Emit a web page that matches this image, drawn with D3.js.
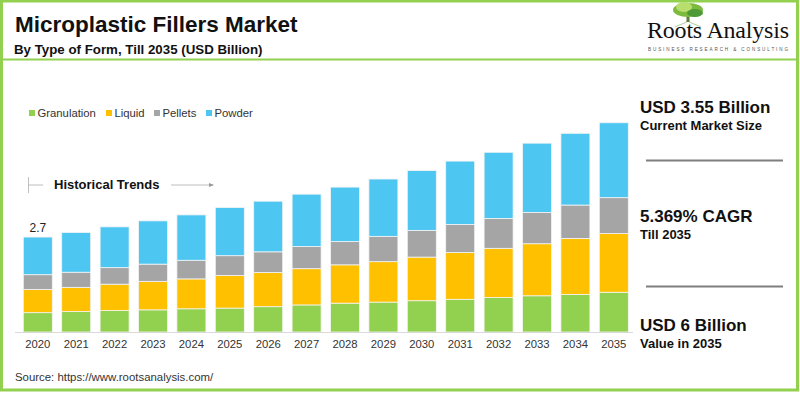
<!DOCTYPE html>
<html>
<head>
<meta charset="utf-8">
<script src="https://cdn.jsdelivr.net/npm/d3@7"></script>
<style>
  body { margin: 0; background: #fff; }
  svg { display: block; font-family: Arial, "Liberation Sans", sans-serif; }
</style>
</head>
<body>
<div id="chart"></div>
<script>
// data (USD Billion)
let years = ["2020", "2021", "2022", "2023", "2024", "2025", "2026", "2027",
             "2028", "2029", "2030", "2031", "2032", "2033", "2034", "2035"];
let granulation = [0.55, 0.58, 0.61, 0.63, 0.66, 0.68, 0.72, 0.77, 0.82, 0.85, 0.89, 0.93, 0.98, 1.03, 1.07, 1.13];
let liquid      = [0.66, 0.69, 0.75, 0.81, 0.85, 0.93, 0.97, 1.03, 1.09, 1.15, 1.24, 1.33, 1.40, 1.48, 1.59, 1.67];
let pellets     = [0.42, 0.43, 0.47, 0.49, 0.53, 0.56, 0.59, 0.63, 0.66, 0.72, 0.76, 0.80, 0.85, 0.89, 0.95, 1.02];
let powder      = [1.07, 1.13, 1.16, 1.23, 1.29, 1.37, 1.44, 1.49, 1.55, 1.63, 1.70, 1.80, 1.88, 1.97, 2.04, 2.13];
let seriesNames = ["Granulation", "Liquid", "Pellets", "Powder"];
let seriesColors = ["#92d050", "#ffc000", "#a5a5a5", "#4dc7f2"];
let firstLabel = "2.7";

let svgWidth = 800;
let svgHeight = 393;
let green = "#92d050";

let svg = d3.select("#chart")
    .append("svg")
    .attr("width", svgWidth)
    .attr("height", svgHeight);

// frame
svg.append("rect").attr("x", 1.5).attr("y", 1).attr("width", 796).attr("height", 389)
    .attr("fill", "none").attr("stroke", green).attr("stroke-width", 3);
svg.append("line").attr("x1", 0).attr("x2", 798).attr("y1", 59.5).attr("y2", 59.5)
    .attr("stroke", green).attr("stroke-width", 2);

// titles
svg.append("text").attr("x", 15).attr("y", 32)
    .attr("font-size", 22.5).attr("font-weight", "bold").attr("fill", "#111")
    .text("Microplastic Fillers Market");
svg.append("text").attr("x", 14).attr("y", 54)
    .attr("font-size", 13.3).attr("font-weight", "bold").attr("fill", "#111")
    .text("By Type of Form, Till 2035 (USD Billion)");

// logo
let logo = svg.append("g");
logo.append("path").attr("d", "M688,21 C684,24 678,25 675,27 M688,21 C692,24 698,25 701,27")
    .attr("stroke", "#9bbf7a").attr("stroke-width", 0.8).attr("fill", "none");
logo.append("rect").attr("x", 686.5).attr("y", 12).attr("width", 3).attr("height", 10).attr("fill", "#5b7f3a");
logo.append("ellipse").attr("cx", 688).attr("cy", 10).attr("rx", 15).attr("ry", 7).attr("fill", "#7dbb3f");
logo.append("ellipse").attr("cx", 684).attr("cy", 7).attr("rx", 8).attr("ry", 5).attr("fill", "#b8de6e");
logo.append("ellipse").attr("cx", 695).attr("cy", 13).attr("rx", 8).attr("ry", 4).attr("fill", "#4e9a36");
logo.append("text").attr("x", 647).attr("y", 38)
    .attr("font-family", "'Liberation Serif', 'Times New Roman', serif")
    .attr("font-size", 24).attr("fill", "#111").attr("textLength", 142)
    .text("Roots Analysis");
logo.append("text").attr("x", 648).attr("y", 51)
    .attr("font-size", 4.6).attr("fill", "#555").attr("textLength", 140)
    .text("BUSINESS RESEARCH & CONSULTING");

// chart scales
let x = d3.scaleBand()
    .domain(years)
    .range([18.6, 633])
    .paddingInner(0.245)
    .paddingOuter(0.1225);

let y = d3.scaleLinear()
    .domain([0, 6])
    .range([332, 121]);

let table = years.map((yr, i) => ({
    year: yr,
    Granulation: granulation[i],
    Liquid: liquid[i],
    Pellets: pellets[i],
    Powder: powder[i]
}));

let stacked = d3.stack().keys(seriesNames)(table);

let chartGroup = svg.append("g");

chartGroup.selectAll("g.layer")
    .data(stacked)
    .enter()
    .append("g")
    .attr("class", "layer")
    .attr("fill", (d, i) => seriesColors[i])
    .selectAll("rect")
    .data(d => d)
    .enter()
    .append("rect")
    .attr("x", d => x(d.data.year))
    .attr("y", d => y(d[1]))
    .attr("width", x.bandwidth())
    .attr("height", d => y(d[0]) - y(d[1]))
    .attr("stroke", "#f4f4f4")
    .attr("stroke-width", 0.8);

// baseline
chartGroup.append("line")
    .attr("x1", 15).attr("x2", 633)
    .attr("y1", y(0) + 0.5).attr("y2", y(0) + 0.5)
    .attr("stroke", "#d9d9d9").attr("stroke-width", 1);

// x axis labels
let xAxis = d3.axisBottom(x).tickSize(0).tickPadding(8);
let axisG = chartGroup.append("g")
    .attr("transform", `translate(0, ${y(0)})`)
    .call(xAxis);
axisG.select(".domain").remove();
axisG.selectAll("text")
    .attr("font-family", "Arial, 'Liberation Sans', sans-serif")
    .attr("font-size", 11.3)
    .attr("fill", "#333");

// value label on first bar
let total0 = granulation[0] + liquid[0] + pellets[0] + powder[0];
chartGroup.append("text")
    .attr("x", x(years[0]) + x.bandwidth() / 2)
    .attr("y", y(total0) - 5)
    .attr("text-anchor", "middle")
    .attr("font-size", 12).attr("fill", "#222")
    .text(firstLabel);

// legend
let legendX = [29, 106, 154, 206];
let legend = svg.append("g");
seriesNames.forEach((name, i) => {
    legend.append("rect")
        .attr("x", legendX[i]).attr("y", 110)
        .attr("width", 6).attr("height", 6)
        .attr("fill", seriesColors[i]);
    legend.append("text")
        .attr("x", legendX[i] + 8.5).attr("y", 117)
        .attr("font-size", 11.3).attr("fill", "#333")
        .text(name);
});

// historical trends marker
let ht = svg.append("g").attr("stroke", "#bfbfbf").attr("stroke-width", 1);
ht.append("line").attr("x1", 28.5).attr("x2", 28.5).attr("y1", 177).attr("y2", 193);
ht.append("line").attr("x1", 28.5).attr("x2", 43).attr("y1", 185).attr("y2", 185);
ht.append("line").attr("x1", 171).attr("x2", 213).attr("y1", 185).attr("y2", 185);
ht.append("path").attr("d", "M209,183 L214,185 L209,187 Z").attr("fill", "#999").attr("stroke", "none");
svg.append("text").attr("x", 54).attr("y", 189)
    .attr("font-size", 13).attr("font-weight", "bold").attr("fill", "#111")
    .text("Historical Trends");

// right side key figures
let facts = [
    { big: "USD 3.55 Billion", small: "Current Market Size", y: 113 },
    { big: "5.369% CAGR", small: "Till 2035", y: 222 },
    { big: "USD 6 Billion", small: "Value in 2035", y: 331 }
];
facts.forEach(f => {
    svg.append("text").attr("x", 640).attr("y", f.y)
        .attr("font-size", 17).attr("font-weight", "bold").attr("fill", "#111")
        .text(f.big);
    svg.append("text").attr("x", 640).attr("y", f.y + 17)
        .attr("font-size", 13).attr("font-weight", "bold").attr("fill", "#111")
        .text(f.small);
});
[160.5, 286.5].forEach(ly => {
    svg.append("line").attr("x1", 646).attr("x2", 783).attr("y1", ly).attr("y2", ly)
        .attr("stroke", "#7f7f7f").attr("stroke-width", 2);
});

// source
svg.append("text").attr("x", 15).attr("y", 381)
    .attr("font-size", 11.4).attr("fill", "#333")
    .text("Source: https://www.rootsanalysis.com/");
</script>
</body>
</html>
